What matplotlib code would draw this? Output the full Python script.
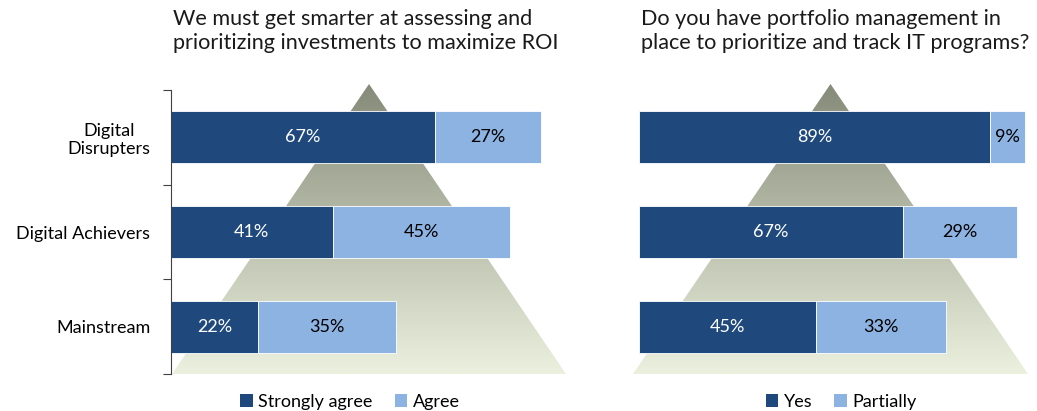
import matplotlib
matplotlib.use("Agg")
import matplotlib.pyplot as plt
import numpy as np
from matplotlib.patches import Polygon, Patch

plt.rcParams['font.family'] = ['Lato', 'DejaVu Sans']

categories = ["Digital\nDisrupters", "Digital Achievers", "Mainstream"]
left_title = "We must get smarter at assessing and\nprioritizing investments to maximize ROI"
left_series = ["Strongly agree", "Agree"]
left_strong = [67, 41, 22]
left_agree = [27, 45, 35]

right_title = "Do you have portfolio management in\nplace to prioritize and track IT programs?"
right_series = ["Yes", "Partially"]
right_yes = [89, 67, 45]
right_partial = [9, 29, 33]

DARK = "#1f497d"
LIGHT = "#8db3e2"

W, H = 1037, 411
fig = plt.figure(figsize=(W / 100, H / 100), dpi=100)


def fx(px):
    return px / W


def fy(py):
    return 1 - py / H


def triangle(x0, x1, ytop, ybot):
    bg = fig.add_axes([fx(x0), fy(ybot), fx(x1 - x0), (ybot - ytop) / H], zorder=0)
    bg.set_xlim(0, 1)
    bg.set_ylim(0, 1)
    bg.axis("off")
    top = np.array([0x86, 0x8a, 0x78]) / 255
    bot = np.array([0xeb, 0xf1, 0xde]) / 255
    t = np.linspace(0, 1, 256)[:, None]
    grad = (top[None, :] * (1 - t) + bot[None, :] * t)[:, None, :]
    im = bg.imshow(grad, extent=[0, 1, 0, 1], aspect="auto", origin="upper")
    poly = Polygon([[0, 0], [1, 0], [0.5, 1]], closed=True, transform=bg.transAxes,
                   facecolor="none", edgecolor="none")
    bg.add_patch(poly)
    im.set_clip_path(poly)


triangle(172, 566, 84, 374)
triangle(633, 1028, 84, 374)


def panel(x0, a, b, title, series, show_axis, legend_cx):
    ax = fig.add_axes([fx(x0), fy(374), fx(394), 284 / H], zorder=2)
    ax.patch.set_alpha(0)
    y = np.arange(len(categories))
    ax.barh(y, a, height=0.55, color=DARK, edgecolor="white", linewidth=0.6)
    ax.barh(y, b, left=a, height=0.55, color=LIGHT, edgecolor="white", linewidth=0.6)
    for yi, av, bv in zip(y, a, b):
        ax.text(av / 2, yi, f"{av}%", ha="center", va="center", color="white", fontsize=13)
        ax.text(av + bv / 2, yi, f"{bv}%", ha="center", va="center", color="black", fontsize=13)
    ax.set_xlim(0, 100)
    ax.set_ylim(2.5, -0.5)
    ax.set_xticks([])
    for s in ["top", "right", "bottom"]:
        ax.spines[s].set_visible(False)
    if show_axis:
        ax.spines["left"].set_color("#404040")
        ax.set_yticks([-0.5, 0.5, 1.5, 2.5])
        ax.set_yticklabels([])
        ax.tick_params(axis="y", which="major", length=6, color="#404040", direction="out")
        ax.set_yticks(y, minor=True)
        ax.set_yticklabels(categories, minor=True, fontsize=13, multialignment="center")
        ax.tick_params(axis="y", which="minor", length=0, pad=15)
    else:
        ax.spines["left"].set_visible(False)
        ax.set_yticks([])
    fig.text(fx(x0 + 2), fy(9), title, ha="left", va="top", fontsize=15.6,
             linespacing=1.25, color="#1a1a1a")
    handles = [Patch(facecolor=DARK, edgecolor="none"), Patch(facecolor=LIGHT, edgecolor="none")]
    fig.legend(handles, series, loc="center", bbox_to_anchor=(fx(legend_cx), fy(402)),
               ncol=2, frameon=False, fontsize=13, handlelength=0.7, handleheight=0.7,
               handletextpad=0.3, columnspacing=1.2, borderaxespad=0, borderpad=0)
    return ax


panel(171, left_strong, left_agree, left_title, left_series, True, 350)
panel(639, right_yes, right_partial, right_title, right_series, False, 841)

fig.savefig("out.png", dpi=100)
